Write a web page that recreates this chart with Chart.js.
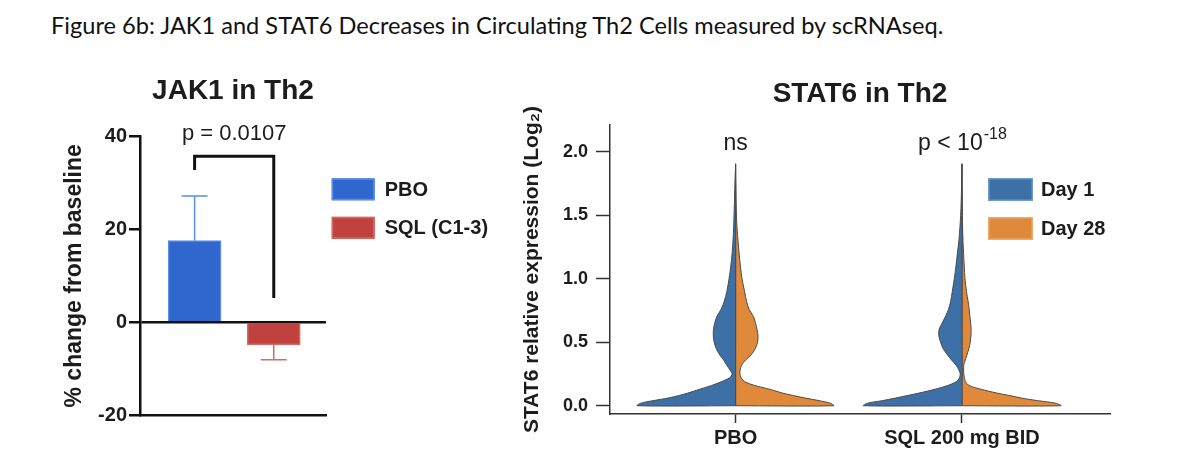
<!DOCTYPE html>
<html>
<head>
<meta charset="utf-8">
<script src="https://cdn.jsdelivr.net/npm/chart.js@4.4.1/dist/chart.umd.min.js"></script>
<style>
  html, body { margin: 0; padding: 0; background: #fff; }
  body { width: 1199px; height: 474px; position: relative; overflow: hidden; }
  #caption { position: absolute; left: 51px; top: 14px; font-family: Lato, "Open Sans", sans-serif; font-size: 23.6px; line-height: 1; color: #111; white-space: nowrap; }
  #left { position: absolute; left: 0; top: 0; width: 520px; height: 474px; }
  #right { position: absolute; left: 520px; top: 0; width: 679px; height: 474px; }
</style>
</head>
<body>
<div id="caption">Figure 6b: JAK1 and STAT6 Decreases in Circulating Th2 Cells measured by scRNAseq.</div>
<div id="left"><canvas id="jak"></canvas></div>
<div id="right"><canvas id="stat"></canvas></div>
<script>
// ---- JAK1 panel data ----
const jakGroups = ['PBO', 'SQL (C1-3)'];
const jakChange = [17.6, -4.9];          // mean % change
const jakErrorEnd = [27.2, -8.1];        // end of error whisker
const jakBracket = [32.8, 35.8, 5.2];    // left foot, top, right foot
const jakPValue = 'p = 0.0107';
const jakColors = ['#2f67cf', '#c0413e'];
const jakEdges = ['#5b8ee0', '#d26c68'];

// ---- STAT6 panel data ----
const statGroups = ['PBO', 'SQL 200 mg BID'];
const statDays = ['Day 1', 'Day 28'];
const statPValues = ['ns', 'p < 10^-18'];
const statTicks = [0, 0.5, 1.0, 1.5, 2.0];
const statLevels = [0, 0.02, 0.04, 0.06, 0.08, 0.10, 0.13, 0.16, 0.19, 0.22, 0.25, 0.28, 0.32, 0.36, 0.40, 0.45,
  0.50, 0.55, 0.60, 0.65, 0.70, 0.76, 0.82, 0.90, 1.00, 1.10, 1.20, 1.30, 1.40, 1.50, 1.60, 1.70, 1.80, 1.90];
// relative density (100 = widest) at each level
const pboDay1 = [99, 95, 83, 68, 57, 48, 36, 24, 14, 6, 3.5, 5.5, 9, 12, 16, 19.5,
  21.5, 22.4, 22.3, 21, 19, 14.5, 11.5, 8.8, 6.6, 4.8, 3.5, 2.6, 2, 1.6, 1.2, 0.9, 0.5, 0];
const pboDay28 = [98.6, 95, 84, 70, 58, 47, 34, 19, 9, 5.5, 4.3, 4.5, 6, 10, 15.5, 19.8,
  22, 22.5, 21.5, 20, 18, 13.5, 11, 9, 6.4, 4.8, 3.5, 2.4, 1.4, 0.8, 0.5, 0.3, 0.1, 0];
const sqlDay1 = [99, 95, 80, 67, 55, 43, 27, 14, 5.5, 2.5, 1.7, 3, 6, 10.5, 14.5, 19,
  21.5, 23.2, 23, 20, 16.7, 13.5, 11.4, 9.7, 7.7, 6, 4.6, 3.1, 2.1, 1.3, 0.8, 0.5, 0.3, 0];
const sqlDay28 = [99.4, 94, 76, 60, 48, 35, 19, 7, 3.5, 2.5, 1.8, 1.7, 1.8, 3.3, 5, 7,
  8.3, 9, 9.2, 8.8, 8, 7.2, 6.2, 4.5, 3, 2.3, 1.6, 1, 0.6, 0.4, 0.3, 0.2, 0.1, 0];
const statColors = ['#3c70a6', '#e1893a'];
const statEdges = ['#6d9bcc', '#eeaa6a'];

const FONT = '"Liberation Sans", Arial, Helvetica, sans-serif';
const INK = '#1c1c1c';
Chart.defaults.font.family = FONT;
Chart.defaults.color = INK;

function boldFont(size) { return { family: FONT, size: size, weight: 'bold' }; }

// simple box legend drawn next to / inside the plot
function makeLegend(items, dx, dy, boxW, boxH, gap, textGap) {
  return {
    id: 'boxLegend',
    afterDraw(chart) {
      const { ctx, chartArea } = chart;
      ctx.save();
      ctx.font = 'bold 20px ' + FONT;
      ctx.textBaseline = 'middle';
      ctx.textAlign = 'left';
      items.forEach((it, i) => {
        const x = chartArea.left + dx;
        const y = chartArea.top + dy + i * gap;
        ctx.fillStyle = it.fill;
        ctx.fillRect(x, y, boxW, boxH);
        ctx.strokeStyle = it.edge;
        ctx.lineWidth = 1.5;
        ctx.strokeRect(x + 0.75, y + 0.75, boxW - 1.5, boxH - 1.5);
        ctx.fillStyle = INK;
        ctx.fillText(it.label, x + boxW + textGap, y + boxH / 2 + 1);
      });
      ctx.restore();
    }
  };
}

// text with optional ^superscript
function drawSupText(ctx, text, cx, baseline, size) {
  const parts = text.split('^');
  ctx.font = size + 'px ' + FONT;
  const w0 = ctx.measureText(parts[0]).width;
  let w1 = 0;
  if (parts[1]) { ctx.font = Math.round(size * 0.68) + 'px ' + FONT; w1 = ctx.measureText(parts[1]).width; }
  const x0 = cx - (w0 + w1) / 2;
  ctx.textAlign = 'left';
  ctx.textBaseline = 'alphabetic';
  ctx.font = size + 'px ' + FONT;
  ctx.fillText(parts[0], x0, baseline);
  if (parts[1]) {
    ctx.font = Math.round(size * 0.68) + 'px ' + FONT;
    ctx.fillText(parts[1], x0 + w0 + 1, baseline - size * 0.45);
  }
}

// ---------------- JAK1 bar chart ----------------
const jakDatasets = jakGroups.map((g, i) => ({
  type: 'bar',
  label: g,
  data: [{ x: i + 1, y: jakChange[i] }],
  backgroundColor: jakColors[i],
  borderColor: jakEdges[i],
  borderWidth: 1.5,
  barThickness: 53,
  grouped: false,
  errEnd: jakErrorEnd[i]
}));
jakDatasets.push({
  type: 'line',
  label: 'bracket',
  data: [{ x: 1, y: jakBracket[0] }, { x: 1, y: jakBracket[1] }, { x: 2, y: jakBracket[1] }, { x: 2, y: jakBracket[2] }],
  borderColor: '#111',
  borderWidth: 3,
  pointRadius: 0,
  fill: false,
  tension: 0
});

const jakAnnotations = {
  id: 'jakAnnotations',
  afterDatasetsDraw(chart) {
    const { ctx, scales: { x, y } } = chart;
    ctx.save();
    chart.data.datasets.forEach((ds, i) => {
      if (ds.errEnd === undefined) return;
      const bar = chart.getDatasetMeta(i).data[0];
      const yEnd = y.getPixelForValue(ds.errEnd);
      ctx.strokeStyle = jakEdges[i];
      ctx.lineWidth = 1.5;
      ctx.beginPath();
      ctx.moveTo(bar.x, bar.y);
      ctx.lineTo(bar.x, yEnd);
      ctx.moveTo(bar.x - 13, yEnd);
      ctx.lineTo(bar.x + 13, yEnd);
      ctx.stroke();
    });
    ctx.fillStyle = INK;
    const cx = (x.getPixelForValue(1) + x.getPixelForValue(2)) / 2;
    drawSupText(ctx, jakPValue, cx, y.getPixelForValue(jakBracket[1]) - 16, 22);
    ctx.restore();
  }
};

new Chart(document.getElementById('jak'), {
  type: 'bar',
  data: { datasets: jakDatasets },
  options: {
    responsive: true,
    maintainAspectRatio: false,
    animation: false,
    layout: { padding: { left: 50, right: 194, top: 0, bottom: 59 } },
    plugins: {
      legend: { display: false },
      tooltip: { enabled: false },
      title: {
        display: true, text: 'JAK1 in Th2', fullSize: false, color: INK,
        font: boldFont(28), padding: { top: 74.2, bottom: 28.9 }
      }
    },
    scales: {
      x: {
        type: 'linear', min: 0.31, max: 2.66, offset: false,
        ticks: { display: false },
        grid: { display: false },
        border: { display: true, color: '#111', width: 2.5 },
        afterFit: s => { s.height = 0; }
      },
      y: {
        min: -20, max: 40,
        ticks: { stepSize: 20, font: boldFont(20), color: INK, padding: 2 },
        grid: {
          z: 1,
          color: c => (c.tick && c.tick.value === 0 ? '#111' : 'rgba(0,0,0,0)'),
          lineWidth: 2.5, tickColor: '#111', tickWidth: 2.5, tickLength: 11
        },
        border: { display: true, color: '#111', width: 2.5, z: 2 },
        title: { display: true, text: '% change from baseline', font: boldFont(23), color: INK, padding: { top: 11.2, bottom: 0 } },
        afterFit: s => { s.width = 90; }
      }
    }
  },
  plugins: [jakAnnotations, makeLegend(
    jakGroups.map((g, i) => ({ label: g, fill: jakColors[i], edge: jakEdges[i] })),
    191.7, 41.6, 43, 22, 38.5, 10)]
});

// ---------------- STAT6 split violins ----------------
const violinHalfWidth = 0.44; // x-units at density 100
const statHalves = [[pboDay1, pboDay28], [sqlDay1, sqlDay28]];
const statDatasets = [];
statGroups.forEach((g, gi) => {
  statDays.forEach((d, di) => {
    const dens = statHalves[gi][di];
    const side = di === 0 ? -1 : 1;
    const c = gi + 1;
    const pts = [{ x: c, y: statLevels[0] }];
    statLevels.forEach((lv, k) => pts.push({ x: c + side * dens[k] / 100 * violinHalfWidth, y: lv }));
    pts.push({ x: c, y: statLevels[0] });
    statDatasets.push({
      label: d + ' ' + g,
      data: pts,
      showLine: true,
      fill: 'shape',
      backgroundColor: statColors[di],
      borderColor: '#4a4a4a',
      borderWidth: 1,
      pointRadius: 0,
      tension: 0.3
    });
  });
});

const statAnnotations = {
  id: 'statAnnotations',
  afterDraw(chart) {
    const { ctx, scales: { x, y } } = chart;
    ctx.save();
    ctx.fillStyle = INK;
    statPValues.forEach((p, i) => {
      drawSupText(ctx, p, x.getPixelForValue(i + 1), y.getPixelForValue(2.0) - 2, 23);
    });
    ctx.restore();
  }
};

new Chart(document.getElementById('stat'), {
  type: 'scatter',
  data: { datasets: statDatasets },
  options: {
    responsive: true,
    maintainAspectRatio: false,
    animation: false,
    layout: { padding: { left: 0, right: 89, top: 0, bottom: 0 } },
    plugins: {
      legend: { display: false },
      tooltip: { enabled: false },
      title: {
        display: true, text: 'STAT6 in Th2', fullSize: false, color: INK,
        font: boldFont(28), padding: { top: 77.2, bottom: 14.2 }
      }
    },
    scales: {
      x: {
        type: 'linear', min: 0.445, max: 2.654,
        afterBuildTicks: s => { s.ticks = statGroups.map((g, i) => ({ value: i + 1 })); },
        ticks: { callback: (v, i) => statGroups[i], font: boldFont(20), color: INK, padding: 3, maxRotation: 0, autoSkip: false },
        grid: { drawOnChartArea: false, tickLength: 9, tickColor: '#333', tickWidth: 1.5 },
        border: { display: true, color: '#333', width: 1.5 },
        afterFit: s => { s.height = 60; }
      },
      y: {
        min: -0.065, max: 2.21,
        afterBuildTicks: s => { s.ticks = statTicks.map(v => ({ value: v })); },
        ticks: { callback: v => Number(v).toFixed(1), font: boldFont(18), color: INK, padding: 8 },
        grid: { drawOnChartArea: false, tickLength: 14, tickColor: '#333', tickWidth: 1.5 },
        border: { display: true, color: '#333', width: 1.5 },
        title: { display: true, text: 'STAT6 relative expression (Log\u2082)', font: boldFont(21), color: INK, padding: { top: 0, bottom: 0 } },
        afterFit: s => { s.width = 90; }
      }
    }
  },
  plugins: [statAnnotations, makeLegend(
    statDays.map((d, i) => ({ label: d, fill: statColors[i], edge: statEdges[i] })),
    378, 53, 45, 23, 39, 8)]
});
</script>
</body>
</html>
